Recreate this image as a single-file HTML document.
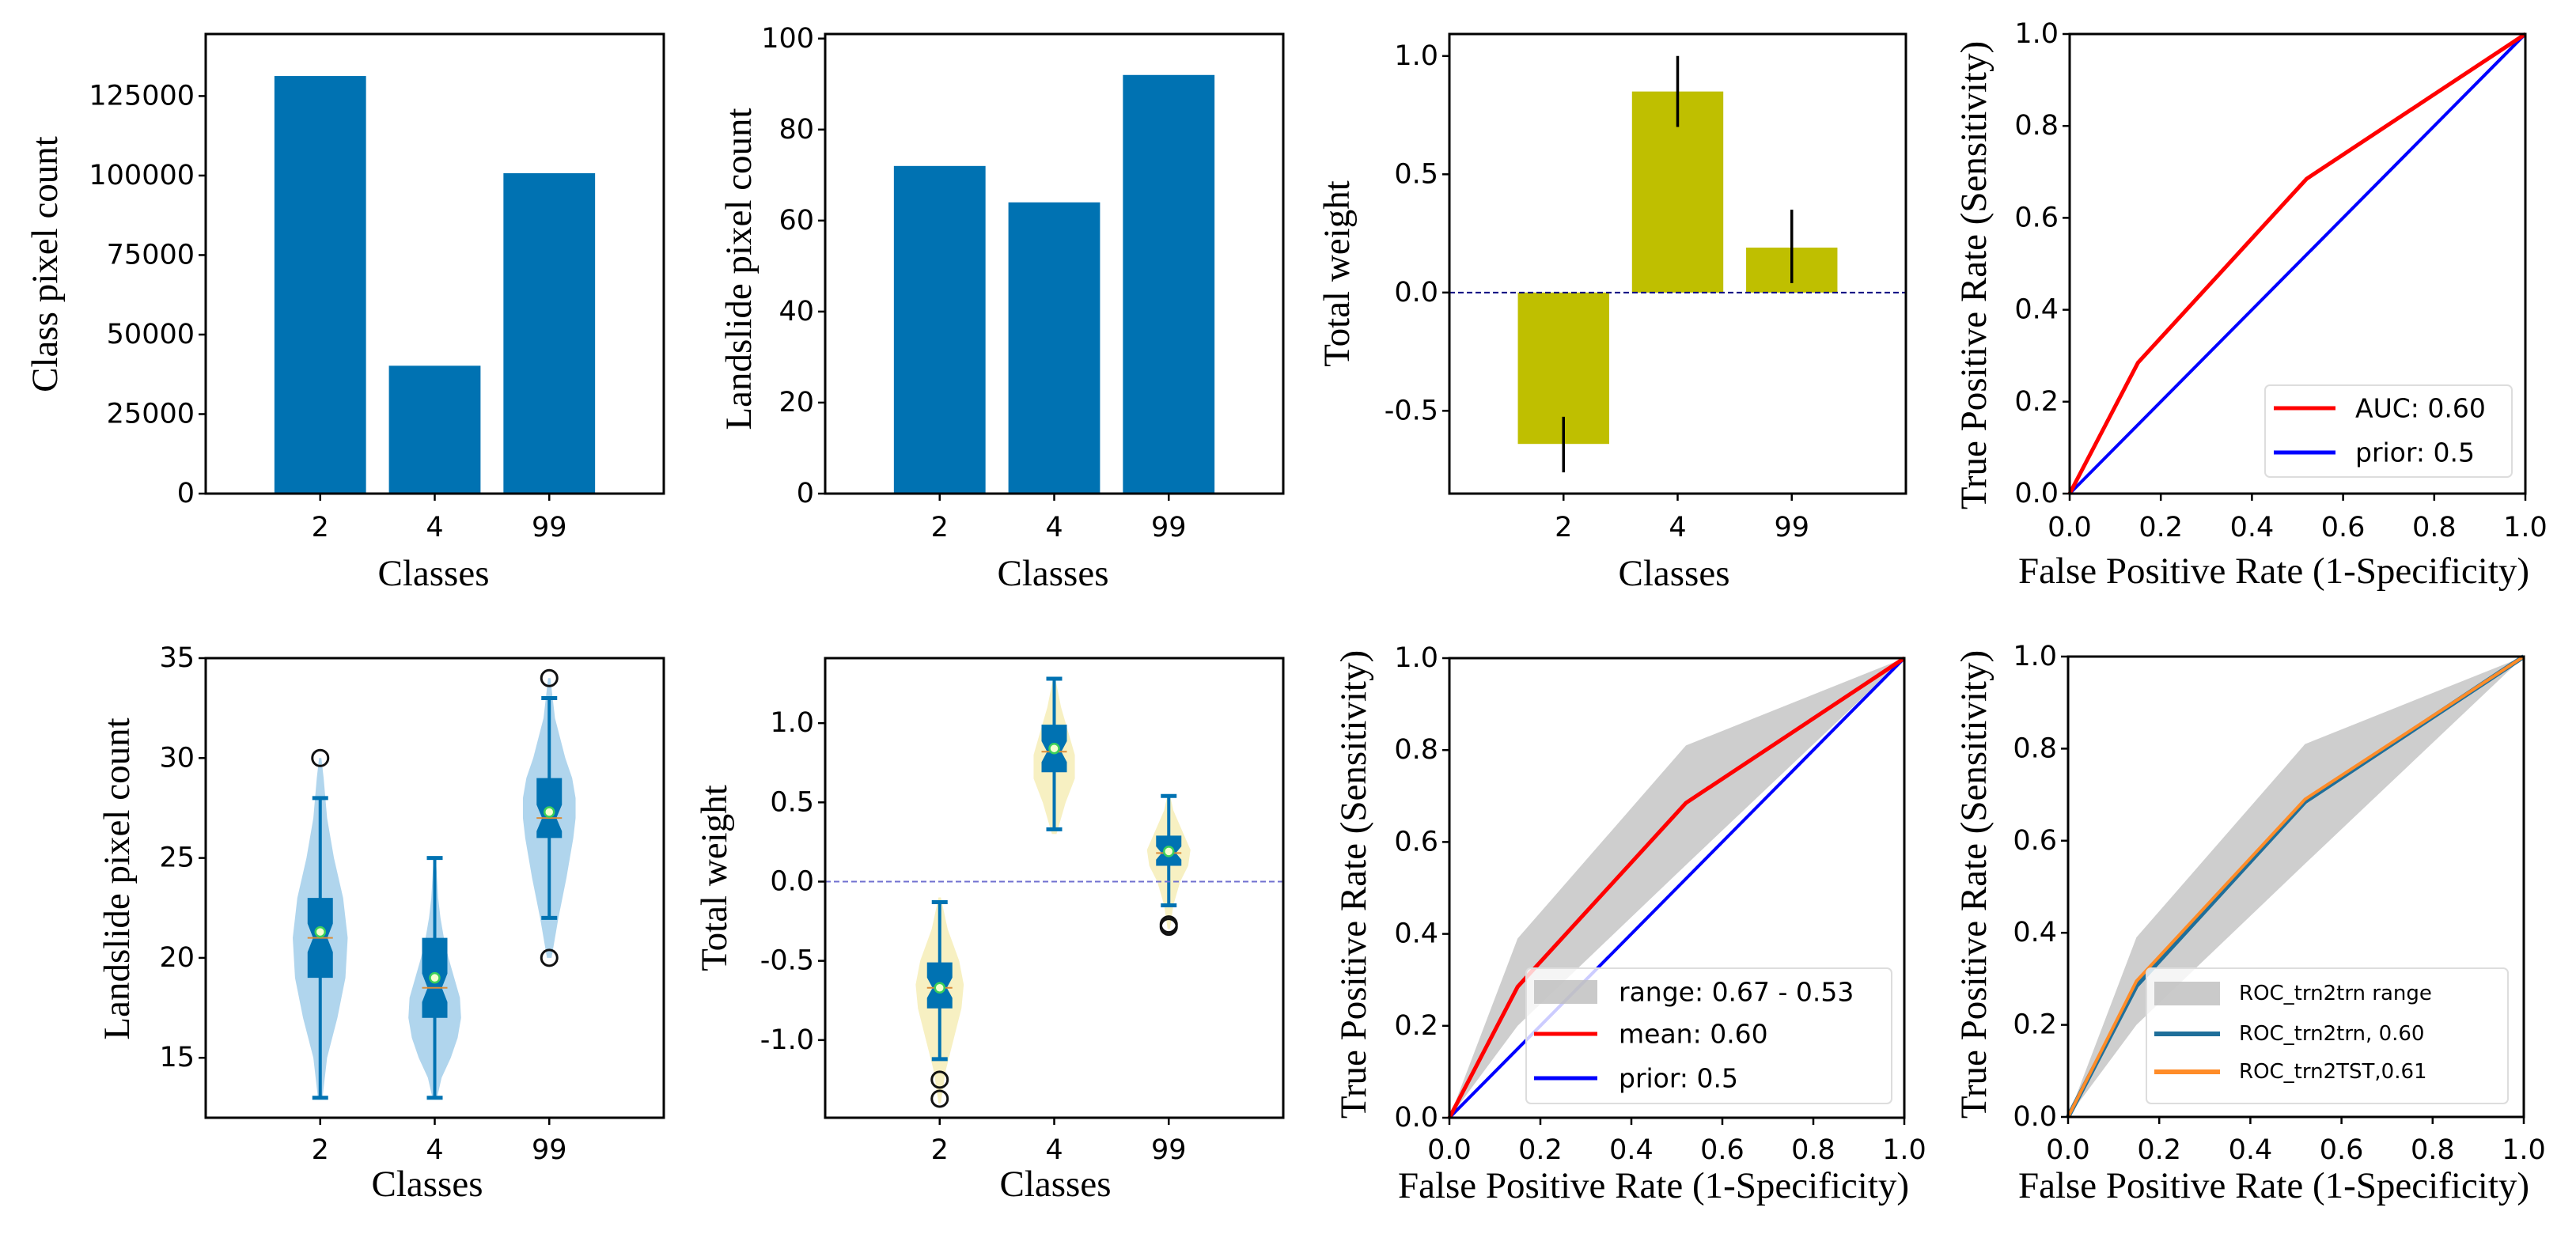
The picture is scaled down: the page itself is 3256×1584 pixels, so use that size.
<!DOCTYPE html>
<html><head><meta charset="utf-8"><style>
html,body{margin:0;padding:0;background:#fff;}
svg{display:block;}
.tk{font-family:"DejaVu Sans","Liberation Sans",sans-serif;font-size:35px;fill:#000;}
.lb{font-family:"Liberation Serif",serif;font-size:47px;fill:#000;}
.lg{font-family:"DejaVu Sans","Liberation Sans",sans-serif;font-size:33px;fill:#000;}
.lg2{font-family:"DejaVu Sans","Liberation Sans",sans-serif;font-size:26px;fill:#000;}
</style></head><body>
<svg id="fig" width="3256" height="1584" viewBox="0 0 3256 1584" xmlns="http://www.w3.org/2000/svg"></svg>
<script>
// ---------- data ----------
const classes = ['2','4','99'];
const classPixelCount = [131300, 40200, 100750];
const landslidePixelCount = [72, 64, 92];
const totalWeight = [-0.64, 0.85, 0.19];
const weightErrLow = [-0.76, 0.70, 0.04];
const weightErrHigh = [-0.525, 1.0, 0.35];
const ticksP1 = [0, 25000, 50000, 75000, 100000, 125000];
const ticksP2 = [0, 20, 40, 60, 80, 100];
const ticksP3 = [-0.5, 0.0, 0.5, 1.0];
const rocTicks = [0, 0.2, 0.4, 0.6, 0.8, 1.0];
const rocFpr = [0, 0.15, 0.52, 1.0];
const rocTpr = [0, 0.285, 0.685, 1.0];
const rocTst = [0, 0.295, 0.69, 1.0];
const priorFpr = [0, 1];
const priorTpr = [0, 1];
const bandFpr = [0, 0.15, 0.52, 1.0];
const bandUpper = [0, 0.39, 0.81, 1.0];
const bandLower = [0, 0.20, 0.55, 1.0];
const ticksP5 = [15, 20, 25, 30, 35];
const ticksP6 = [-1.0, -0.5, 0.0, 0.5, 1.0];
// box stats: [whiskLow, q1, median, q3, whiskHigh, mean]
const boxP5 = [[13, 19, 21, 23, 28, 21.3], [13, 17, 18.5, 21, 25, 19], [22, 26, 27, 29, 33, 27.3]];
const outP5 = [[30], [], [20, 34]];
const violinYP5 = [[13,15,17,19,21,23,25,27,29,30],[13,14,15,16,17,18,19,20,21,22,23,24,25],[20,22,24,26,27,28,29,30,32,34]];
const violinWP5 = [[.02,.06,.15,.22,.24,.2,.12,.06,.03,.01],[.02,.06,.14,.2,.23,.22,.17,.12,.08,.05,.03,.02,.01],[.02,.08,.15,.21,.23,.23,.2,.14,.05,.01]];
const boxP6 = [[-1.12, -0.80, -0.67, -0.51, -0.13, -0.67], [0.33, 0.69, 0.82, 0.99, 1.28, 0.84], [-0.15, 0.10, 0.18, 0.29, 0.54, 0.19]];
const outP6 = [[-1.25, -1.37], [], [-0.27, -0.285]];
const violinYP6 = [[-1.4,-1.2,-1.0,-0.8,-0.65,-0.5,-0.3,-0.1],[0.3,0.5,0.65,0.8,0.95,1.1,1.28],[-0.3,-0.15,0,0.1,0.2,0.3,0.45,0.55]];
const violinWP6 = [[.01,.05,.12,.19,.21,.17,.07,.01],[.02,.1,.18,.18,.12,.06,.01],[.01,.04,.1,.17,.19,.13,.04,.01]];

// ---------- helpers ----------
const svg = document.getElementById('fig');
const NS = 'http://www.w3.org/2000/svg';
function mk(tag, attrs, parent, name) {
  const el = document.createElementNS(NS, tag);
  for (const k in attrs) el.setAttribute(k, attrs[k]);
  
  
  (parent || svg).appendChild(el);
  return el;
}
function txt(s, x, y, cls, anchor, parent, name, rot) {
  const t = mk('text', {x: x, y: y, class: cls, 'text-anchor': anchor, 'dominant-baseline': 'central'}, parent, name);
  if (rot) t.setAttribute('transform', 'rotate(-90 ' + x + ' ' + y + ')');
  t.textContent = s;
  return t;
}
function lin(d0, d1, r0, r1) { return v => r0 + (v - d0) / (d1 - d0) * (r1 - r0); }

function panel(id, L, R, T, B, xd, yd) {
  const g = mk('g', {}, svg, id);
  return {g: g, L: L, R: R, T: T, B: B, x: lin(xd[0], xd[1], L, R), y: lin(yd[0], yd[1], B, T)};
}
function frame(p) {
  mk('rect', {x: p.L, y: p.T, width: p.R - p.L, height: p.B - p.T, fill: 'none', stroke: '#000', 'stroke-width': 3}, p.g, 'axes-frame');
}
function yticks(p, vals, fmt) {
  vals.forEach(v => {
    const yy = p.y(v);
    mk('line', {x1: p.L - 9, x2: p.L, y1: yy, y2: yy, stroke: '#000', 'stroke-width': 2.5}, p.g, 'y-tick');
    txt(fmt(v), p.L - 14, yy, 'tk', 'end', p.g, 'y-tick-label');
  });
}
function xticks(p, vals, labels, ly) {
  vals.forEach((v, i) => {
    const xx = p.x(v);
    mk('line', {x1: xx, x2: xx, y1: p.B, y2: p.B + 9, stroke: '#000', 'stroke-width': 2.5}, p.g, 'x-tick');
    txt(labels[i], xx, ly, 'tk', 'middle', p.g, 'x-tick-label');
  });
}
function pathOf(p, xs, ys) { return xs.map((v, i) => (i ? 'L' : 'M') + p.x(v) + ' ' + p.y(ys[i])).join(' '); }
const f1 = v => v.toFixed(1);
const fi = v => String(v);

// ---------- P1 ----------
let p = panel('class-pixel-count-chart', 260, 839, 43, 624, [-1, 3], [0, 144500]);
classPixelCount.forEach((v, i) => {
  mk('rect', {x: p.x(i - 0.4), y: p.y(v), width: p.x(0.8) - p.x(0), height: p.y(0) - p.y(v), fill: '#0072b2'}, p.g, 'bar-class-' + classes[i]);
});
frame(p); yticks(p, ticksP1, fi); xticks(p, [0, 1, 2], classes, 667);
txt('Class pixel count', 57, 334, 'lb', 'middle', p.g, 'y-axis-title', true);
txt('Classes', 548, 725, 'lb', 'middle', p.g, 'x-axis-title');

// ---------- P2 ----------
p = panel('landslide-pixel-count-chart', 1043, 1622, 43, 624, [-1, 3], [0, 101]);
landslidePixelCount.forEach((v, i) => {
  mk('rect', {x: p.x(i - 0.4), y: p.y(v), width: p.x(0.8) - p.x(0), height: p.y(0) - p.y(v), fill: '#0072b2'}, p.g, 'bar-class-' + classes[i]);
});
frame(p); yticks(p, ticksP2, fi); xticks(p, [0, 1, 2], classes, 667);
txt('Landslide pixel count', 934, 340, 'lb', 'middle', p.g, 'y-axis-title', true);
txt('Classes', 1331, 725, 'lb', 'middle', p.g, 'x-axis-title');

// ---------- P3 ----------
p = panel('total-weight-chart', 1832, 2409, 43, 624, [-1, 3], [-0.85, 1.093]);
totalWeight.forEach((v, i) => {
  const y0 = Math.min(p.y(v), p.y(0)), h = Math.abs(p.y(v) - p.y(0));
  mk('rect', {x: p.x(i - 0.4), y: y0, width: p.x(0.8) - p.x(0), height: h, fill: '#bfbf00'}, p.g, 'bar-class-' + classes[i]);
});
mk('line', {x1: p.L, x2: p.R, y1: p.y(0), y2: p.y(0), stroke: '#000080', 'stroke-width': 2, 'stroke-dasharray': '7 4'}, p.g, 'zero-line');
weightErrLow.forEach((v, i) => {
  mk('line', {x1: p.x(i), x2: p.x(i), y1: p.y(v), y2: p.y(weightErrHigh[i]), stroke: '#000', 'stroke-width': 3.5}, p.g, 'error-bar-' + classes[i]);
});
frame(p); yticks(p, ticksP3, f1); xticks(p, [0, 1, 2], classes, 667);
txt('Total weight', 1690, 346, 'lb', 'middle', p.g, 'y-axis-title', true);
txt('Classes', 2116, 725, 'lb', 'middle', p.g, 'x-axis-title');

// ---------- ROC helper ----------
function roc(id, L, R, T, B, cy, xl) {
  const q = panel(id, L, R, T, B, [0, 1], [0, 1]);
  return q;
}
function rocAxes(q, ylx, yly, xlx, xly, tly) {
  frame(q); yticks(q, rocTicks, f1); xticks(q, rocTicks, rocTicks.map(f1), tly);
  txt('True Positive Rate (Sensitivity)', ylx, yly, 'lb', 'middle', q.g, 'y-axis-title', true);
  txt('False Positive Rate (1-Specificity)', xlx, xly, 'lb', 'middle', q.g, 'x-axis-title');
}
function band(q) {
  const d = pathOf(q, bandFpr, bandUpper) + ' ' + bandFpr.slice().reverse().map((v, i, a) => 'L' + q.x(v) + ' ' + q.y(bandLower[bandLower.length - 1 - i])).join(' ') + ' Z';
  mk('path', {d: d, fill: '#bdbdbd', 'fill-opacity': 0.75}, q.g, 'roc-range-band');
}

// ---------- P4 ----------
p = roc('roc-auc-chart', 2616, 3192, 43, 624);
mk('path', {d: pathOf(p, priorFpr, priorTpr), stroke: '#0000ff', 'stroke-width': 4, fill: 'none'}, p.g, 'prior-line');
mk('path', {d: pathOf(p, rocFpr, rocTpr), stroke: '#ff0000', 'stroke-width': 5, fill: 'none'}, p.g, 'roc-line');
rocAxes(p, 2495, 348, 2874, 722, 667);
mk('rect', {x: 2863, y: 487, width: 312, height: 116, rx: 6, fill: '#fff', 'fill-opacity': 0.85, stroke: '#ddd', 'stroke-width': 2}, p.g, 'legend-box');
mk('line', {x1: 2874, x2: 2952, y1: 516, y2: 516, stroke: '#ff0000', 'stroke-width': 5}, p.g, 'legend-swatch-auc');
txt('AUC: 0.60', 2977, 516, 'lg', 'start', p.g, 'legend-entry-auc');
mk('line', {x1: 2874, x2: 2952, y1: 572, y2: 572, stroke: '#0000ff', 'stroke-width': 5}, p.g, 'legend-swatch-prior');
txt('prior: 0.5', 2977, 572, 'lg', 'start', p.g, 'legend-entry-prior');

// ---------- violin/box helper ----------
function violins(q, vy, vw, boxes, outs, vcol) {
  vy.forEach((ys, i) => {
    const right = ys.map((v, k) => (k ? 'L' : 'M') + q.x(i + vw[i][k]) + ' ' + q.y(v)).join(' ');
    const left = ys.slice().reverse().map((v, k) => 'L' + q.x(i - vw[i][ys.length - 1 - k]) + ' ' + q.y(v)).join(' ');
    mk('path', {d: right + ' ' + left + ' Z', fill: vcol, 'fill-opacity': 0.7}, q.g, 'violin-class-' + classes[i]);
  });
  boxes.forEach((b, i) => {
    const cx = q.x(i), hw = 16, cw = 10, nw = 9;
    const col = '#0072b2';
    mk('line', {x1: cx, x2: cx, y1: q.y(b[0]), y2: q.y(b[4]), stroke: col, 'stroke-width': 4}, q.g, 'whisker-class-' + classes[i]);
    mk('line', {x1: cx - cw, x2: cx + cw, y1: q.y(b[0]), y2: q.y(b[0]), stroke: col, 'stroke-width': 5}, q.g, 'whisker-cap-low');
    mk('line', {x1: cx - cw, x2: cx + cw, y1: q.y(b[4]), y2: q.y(b[4]), stroke: col, 'stroke-width': 5}, q.g, 'whisker-cap-high');
    const yq1 = q.y(b[1]), yq3 = q.y(b[3]), ym = q.y(b[2]);
    const nd = Math.min(Math.abs(yq1 - yq3) * 0.22, 18);
    const d = 'M' + (cx - hw) + ' ' + yq3 + ' L' + (cx + hw) + ' ' + yq3 + ' L' + (cx + hw) + ' ' + (ym - nd) + ' L' + (cx + nw) + ' ' + ym + ' L' + (cx + hw) + ' ' + (ym + nd) + ' L' + (cx + hw) + ' ' + yq1 + ' L' + (cx - hw) + ' ' + yq1 + ' L' + (cx - hw) + ' ' + (ym + nd) + ' L' + (cx - nw) + ' ' + ym + ' L' + (cx - hw) + ' ' + (ym - nd) + ' Z';
    mk('path', {d: d, fill: col}, q.g, 'box-class-' + classes[i]);
    mk('line', {x1: cx - hw, x2: cx + hw, y1: ym, y2: ym, stroke: '#d98c3a', 'stroke-width': 2}, q.g, 'median-line');
    mk('circle', {cx: cx, cy: q.y(b[5]), r: 6, fill: '#f4ffd0', stroke: '#3ccf5a', 'stroke-width': 2.5}, q.g, 'mean-marker');
    outs[i].forEach(o => {
      mk('circle', {cx: cx, cy: q.y(o), r: 10, fill: 'none', stroke: '#111', 'stroke-width': 3}, q.g, 'outlier-point');
    });
  });
}

// ---------- P5 ----------
p = panel('landslide-count-violin-chart', 260, 839, 832, 1413, [-1, 3], [12, 35]);
violins(p, violinYP5, violinWP5, boxP5, outP5, '#8ec3e6');
frame(p); yticks(p, ticksP5, fi); xticks(p, [0, 1, 2], classes, 1454);
txt('Landslide pixel count', 148, 1111, 'lb', 'middle', p.g, 'y-axis-title', true);
txt('Classes', 540, 1497, 'lb', 'middle', p.g, 'x-axis-title');

// ---------- P6 ----------
p = panel('total-weight-violin-chart', 1043, 1622, 832, 1413, [-1, 3], [-1.49, 1.41]);
violins(p, violinYP6, violinWP6, boxP6, outP6, '#f3e9a8');
mk('line', {x1: p.L, x2: p.R, y1: p.y(0), y2: p.y(0), stroke: '#7070d0', 'stroke-width': 2, 'stroke-dasharray': '7 4'}, p.g, 'zero-line');
frame(p); yticks(p, ticksP6, f1); xticks(p, [0, 1, 2], classes, 1454);
txt('Total weight', 903, 1110, 'lb', 'middle', p.g, 'y-axis-title', true);
txt('Classes', 1334, 1497, 'lb', 'middle', p.g, 'x-axis-title');

// ---------- P7 ----------
p = roc('roc-range-chart', 1832, 2407, 832, 1413);
band(p);
mk('path', {d: pathOf(p, priorFpr, priorTpr), stroke: '#0000ff', 'stroke-width': 4, fill: 'none'}, p.g, 'prior-line');
mk('path', {d: pathOf(p, rocFpr, rocTpr), stroke: '#ff0000', 'stroke-width': 5, fill: 'none'}, p.g, 'mean-roc-line');
mk('rect', {x: 1929, y: 1224, width: 462, height: 171, rx: 6, fill: '#fff', 'fill-opacity': 0.8, stroke: '#ddd', 'stroke-width': 2}, p.g, 'legend-box');
mk('rect', {x: 1939, y: 1239, width: 80, height: 30, fill: '#bdbdbd', 'fill-opacity': 0.8}, p.g, 'legend-swatch-range');
txt('range: 0.67 - 0.53', 2046, 1254, 'lg', 'start', p.g, 'legend-entry-range');
mk('line', {x1: 1939, x2: 2019, y1: 1307, y2: 1307, stroke: '#ff0000', 'stroke-width': 5}, p.g, 'legend-swatch-mean');
txt('mean: 0.60', 2046, 1307, 'lg', 'start', p.g, 'legend-entry-mean');
mk('line', {x1: 1939, x2: 2019, y1: 1363, y2: 1363, stroke: '#0000ff', 'stroke-width': 5}, p.g, 'legend-swatch-prior');
txt('prior: 0.5', 2046, 1363, 'lg', 'start', p.g, 'legend-entry-prior');
rocAxes(p, 1711, 1118, 2090, 1499, 1454);

// ---------- P8 ----------
p = roc('roc-train-test-chart', 2614, 3190, 830, 1412);
band(p);
mk('path', {d: pathOf(p, rocFpr, rocTpr), stroke: '#1f6f9a', 'stroke-width': 6, fill: 'none'}, p.g, 'roc-trn2trn-line');
mk('path', {d: pathOf(p, rocFpr, rocTst), stroke: '#ff8c28', 'stroke-width': 4, fill: 'none'}, p.g, 'roc-trn2tst-line');
mk('rect', {x: 2713, y: 1224, width: 457, height: 171, rx: 6, fill: '#fff', 'fill-opacity': 0.8, stroke: '#ddd', 'stroke-width': 2}, p.g, 'legend-box');
mk('rect', {x: 2723, y: 1241, width: 83, height: 30, fill: '#bdbdbd', 'fill-opacity': 0.8}, p.g, 'legend-swatch-range');
txt('ROC_trn2trn range', 2830, 1256, 'lg2', 'start', p.g, 'legend-entry-range');
mk('line', {x1: 2723, x2: 2806, y1: 1307, y2: 1307, stroke: '#1f6f9a', 'stroke-width': 6}, p.g, 'legend-swatch-trn2trn');
txt('ROC_trn2trn, 0.60', 2830, 1307, 'lg2', 'start', p.g, 'legend-entry-trn2trn');
mk('line', {x1: 2723, x2: 2806, y1: 1355, y2: 1355, stroke: '#ff8c28', 'stroke-width': 6}, p.g, 'legend-swatch-trn2tst');
txt('ROC_trn2TST,0.61', 2830, 1355, 'lg2', 'start', p.g, 'legend-entry-trn2tst');
rocAxes(p, 2495, 1118, 2874, 1499, 1454);
</script>
</body></html>
